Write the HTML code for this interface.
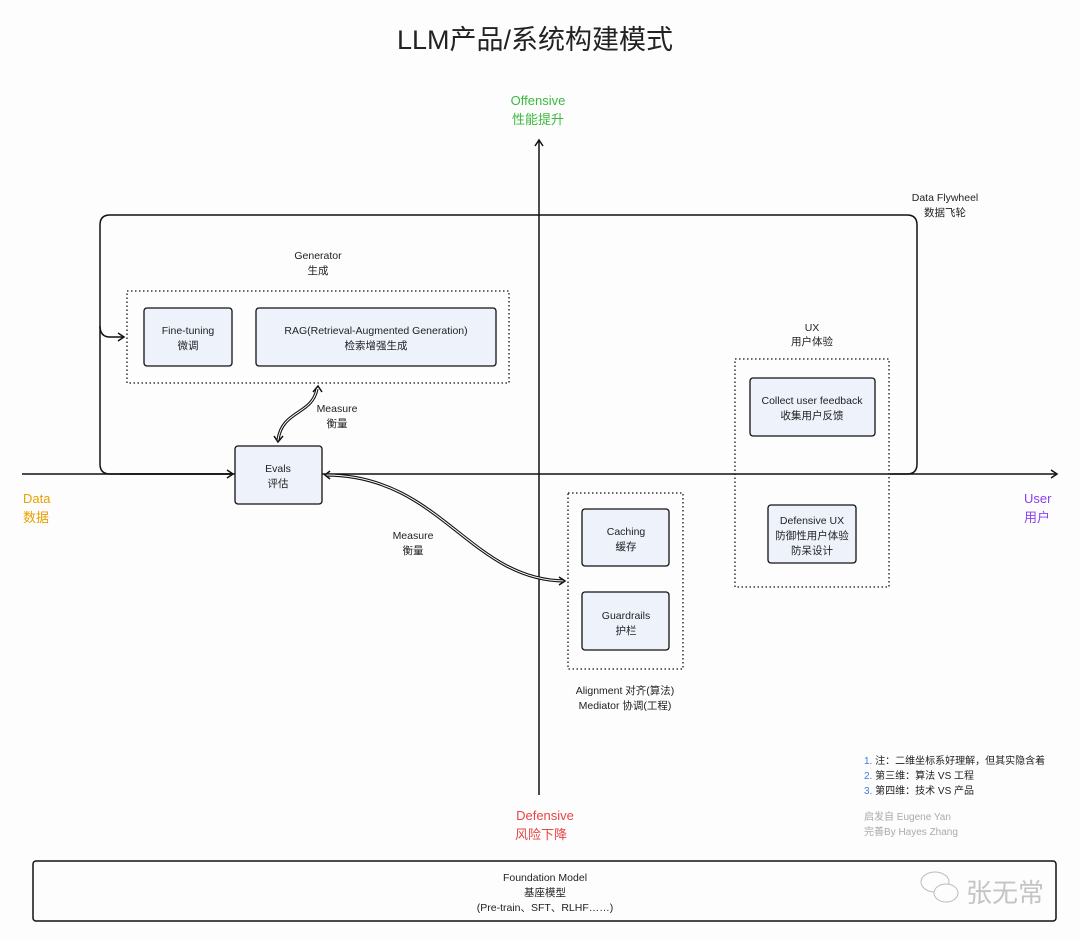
<!DOCTYPE html>
<html><head><meta charset="utf-8"><style>
html,body{margin:0;padding:0;background:#fdfdfd;}
svg{display:block;font-family:"Liberation Sans","Noto Sans CJK SC",sans-serif;}
</style></head><body>
<svg width="1080" height="940" viewBox="0 0 1080 940" xmlns="http://www.w3.org/2000/svg">
<defs>
<marker id="ah" markerWidth="10" markerHeight="10" refX="8" refY="5" orient="auto" markerUnits="userSpaceOnUse">
<path d="M2,1 L8,5 L2,9" fill="none" stroke="#111" stroke-width="1.5"/></marker>
</defs>
<rect width="1080" height="940" fill="#fdfdfd"/>
<text x="535" y="49" font-size="27" text-anchor="middle" fill="#222">LLM产品/系统构建模式</text>

<line x1="539" y1="795" x2="539" y2="140" stroke="#111" stroke-width="1.5" marker-end="url(#ah)"/>
<line x1="22" y1="474" x2="1057" y2="474" stroke="#111" stroke-width="1.5" marker-end="url(#ah)"/>
<text x="538" y="105" font-size="13" fill="#3cb93c" text-anchor="middle">Offensive</text>
<text x="538" y="124" font-size="13" fill="#3cb93c" text-anchor="middle">性能提升</text>
<text x="23" y="503" font-size="13" fill="#e8a000">Data</text>
<text x="23" y="522" font-size="13" fill="#e8a000">数据</text>
<text x="1024" y="503" font-size="13" fill="#8b3ff0">User</text>
<text x="1024" y="522" font-size="13" fill="#8b3ff0">用户</text>
<text x="545" y="820" font-size="13" fill="#e84545" text-anchor="middle">Defensive</text>
<text x="541" y="839" font-size="13" fill="#e84545" text-anchor="middle">风险下降</text>

<path d="M232,474 L110,474 Q100,474 100,464 L100,225 Q100,215 110,215 L907,215 Q917,215 917,225 L917,464 Q917,474 907,474 L890,474" fill="none" stroke="#111" stroke-width="1.5"/>
<text x="945" y="201" font-size="10.5" fill="#222" text-anchor="middle">Data Flywheel</text>
<text x="945" y="216" font-size="10.5" fill="#222" text-anchor="middle">数据飞轮</text>
<path d="M100,326 Q100,337 110,337 L124,337" fill="none" stroke="#111" stroke-width="1.5" marker-end="url(#ah)"/>
<line x1="120" y1="474" x2="233" y2="474" stroke="#111" stroke-width="1.5" marker-end="url(#ah)"/>

<text x="318" y="259" font-size="10.5" fill="#222" text-anchor="middle">Generator</text>
<text x="318" y="274" font-size="10.5" fill="#222" text-anchor="middle">生成</text>
<rect x="127" y="291" width="382" height="92" fill="none" stroke="#111" stroke-width="1.3" stroke-dasharray="1.5,2.5"/>
<rect x="144" y="308" width="88" height="58" rx="3" fill="#eef2fb" stroke="#111" stroke-width="1.3"/>
<text x="188" y="334" font-size="10.5" fill="#222" text-anchor="middle">Fine-tuning</text>
<text x="188" y="349" font-size="10.5" fill="#222" text-anchor="middle">微调</text>
<rect x="256" y="308" width="240" height="58" rx="3" fill="#eef2fb" stroke="#111" stroke-width="1.3"/>
<text x="376" y="334" font-size="10.5" fill="#222" text-anchor="middle">RAG(Retrieval-Augmented Generation)</text>
<text x="376" y="349" font-size="10.5" fill="#222" text-anchor="middle">检索增强生成</text>

<path d="M317,389 C312,415 282,410 278,440" fill="none" stroke="#111" stroke-width="3.2"/>
<path d="M317,389 C312,415 282,410 278,440" fill="none" stroke="#fdfdfd" stroke-width="1"/>
<path d="M313,392 L318,386 L322,392" fill="none" stroke="#111" stroke-width="1.5"/>
<path d="M274,436 L278,442 L283,436" fill="none" stroke="#111" stroke-width="1.5"/>
<text x="337" y="412" font-size="10.5" fill="#222" text-anchor="middle">Measure</text>
<text x="337" y="427" font-size="10.5" fill="#222" text-anchor="middle">衡量</text>

<rect x="235" y="446" width="87" height="58" rx="3" fill="#eef2fb" stroke="#111" stroke-width="1.3"/>
<text x="278" y="472" font-size="10.5" fill="#222" text-anchor="middle">Evals</text>
<text x="278" y="487" font-size="10.5" fill="#222" text-anchor="middle">评估</text>

<path d="M326,475 C440,475 470,580 564,581" fill="none" stroke="#111" stroke-width="3.2"/>
<path d="M326,475 C440,475 470,580 564,581" fill="none" stroke="#fdfdfd" stroke-width="1"/>
<path d="M330,471 L325,475 L330,479" fill="none" stroke="#111" stroke-width="1.5"/>
<path d="M559,577 L565,581 L559,585" fill="none" stroke="#111" stroke-width="1.5"/>
<text x="413" y="539" font-size="10.5" fill="#222" text-anchor="middle">Measure</text>
<text x="413" y="554" font-size="10.5" fill="#222" text-anchor="middle">衡量</text>

<rect x="568" y="493" width="115" height="176" fill="none" stroke="#111" stroke-width="1.3" stroke-dasharray="1.5,2.5"/>
<rect x="582" y="509" width="87" height="57" rx="3" fill="#eef2fb" stroke="#111" stroke-width="1.3"/>
<text x="626" y="535" font-size="10.5" fill="#222" text-anchor="middle">Caching</text>
<text x="626" y="550" font-size="10.5" fill="#222" text-anchor="middle">缓存</text>
<rect x="582" y="592" width="87" height="58" rx="3" fill="#eef2fb" stroke="#111" stroke-width="1.3"/>
<text x="626" y="619" font-size="10.5" fill="#222" text-anchor="middle">Guardrails</text>
<text x="626" y="634" font-size="10.5" fill="#222" text-anchor="middle">护栏</text>
<text x="625" y="694" font-size="10.5" fill="#222" text-anchor="middle">Alignment 对齐(算法)</text>
<text x="625" y="709" font-size="10.5" fill="#222" text-anchor="middle">Mediator 协调(工程)</text>

<text x="812" y="331" font-size="10.5" fill="#222" text-anchor="middle">UX</text>
<text x="812" y="345" font-size="10.5" fill="#222" text-anchor="middle">用户体验</text>
<rect x="735" y="359" width="154" height="228" fill="none" stroke="#111" stroke-width="1.3" stroke-dasharray="1.5,2.5"/>
<rect x="750" y="378" width="125" height="58" rx="3" fill="#eef2fb" stroke="#111" stroke-width="1.3"/>
<text x="812" y="404" font-size="10.5" fill="#222" text-anchor="middle">Collect user feedback</text>
<text x="812" y="419" font-size="10.5" fill="#222" text-anchor="middle">收集用户反馈</text>
<rect x="768" y="505" width="88" height="58" rx="3" fill="#eef2fb" stroke="#111" stroke-width="1.3"/>
<text x="812" y="524" font-size="10.5" fill="#222" text-anchor="middle">Defensive UX</text>
<text x="812" y="539" font-size="10.5" fill="#222" text-anchor="middle">防御性用户体验</text>
<text x="812" y="554" font-size="10.5" fill="#222" text-anchor="middle">防呆设计</text>

<g font-size="10" fill="#222">
<text x="864" y="764"><tspan fill="#3b7be8">1.</tspan> 注：二维坐标系好理解，但其实隐含着</text>
<text x="864" y="779"><tspan fill="#3b7be8">2.</tspan> 第三维：算法 VS 工程</text>
<text x="864" y="794"><tspan fill="#3b7be8">3.</tspan> 第四维：技术 VS 产品</text>
</g>
<text x="864" y="820" font-size="10" fill="#aaa">启发自 Eugene Yan</text>
<text x="864" y="835" font-size="10" fill="#aaa">完善By Hayes Zhang</text>

<rect x="33" y="861" width="1023" height="60" rx="3" fill="none" stroke="#111" stroke-width="1.5"/>
<text x="545" y="881" font-size="10.5" fill="#222" text-anchor="middle">Foundation Model</text>
<text x="545" y="896" font-size="10.5" fill="#222" text-anchor="middle">基座模型</text>
<text x="545" y="911" font-size="10.5" fill="#222" text-anchor="middle">(Pre-train、SFT、RLHF……)</text>

<g fill="none" stroke="#bbb" stroke-width="1">
<ellipse cx="935" cy="882" rx="14" ry="10"/>
<ellipse cx="946" cy="893" rx="12" ry="9" fill="#fdfdfd"/>
</g>
<text x="966" y="902" font-size="26" fill="#c4c4c4">张无常</text>
</svg>
</body></html>
